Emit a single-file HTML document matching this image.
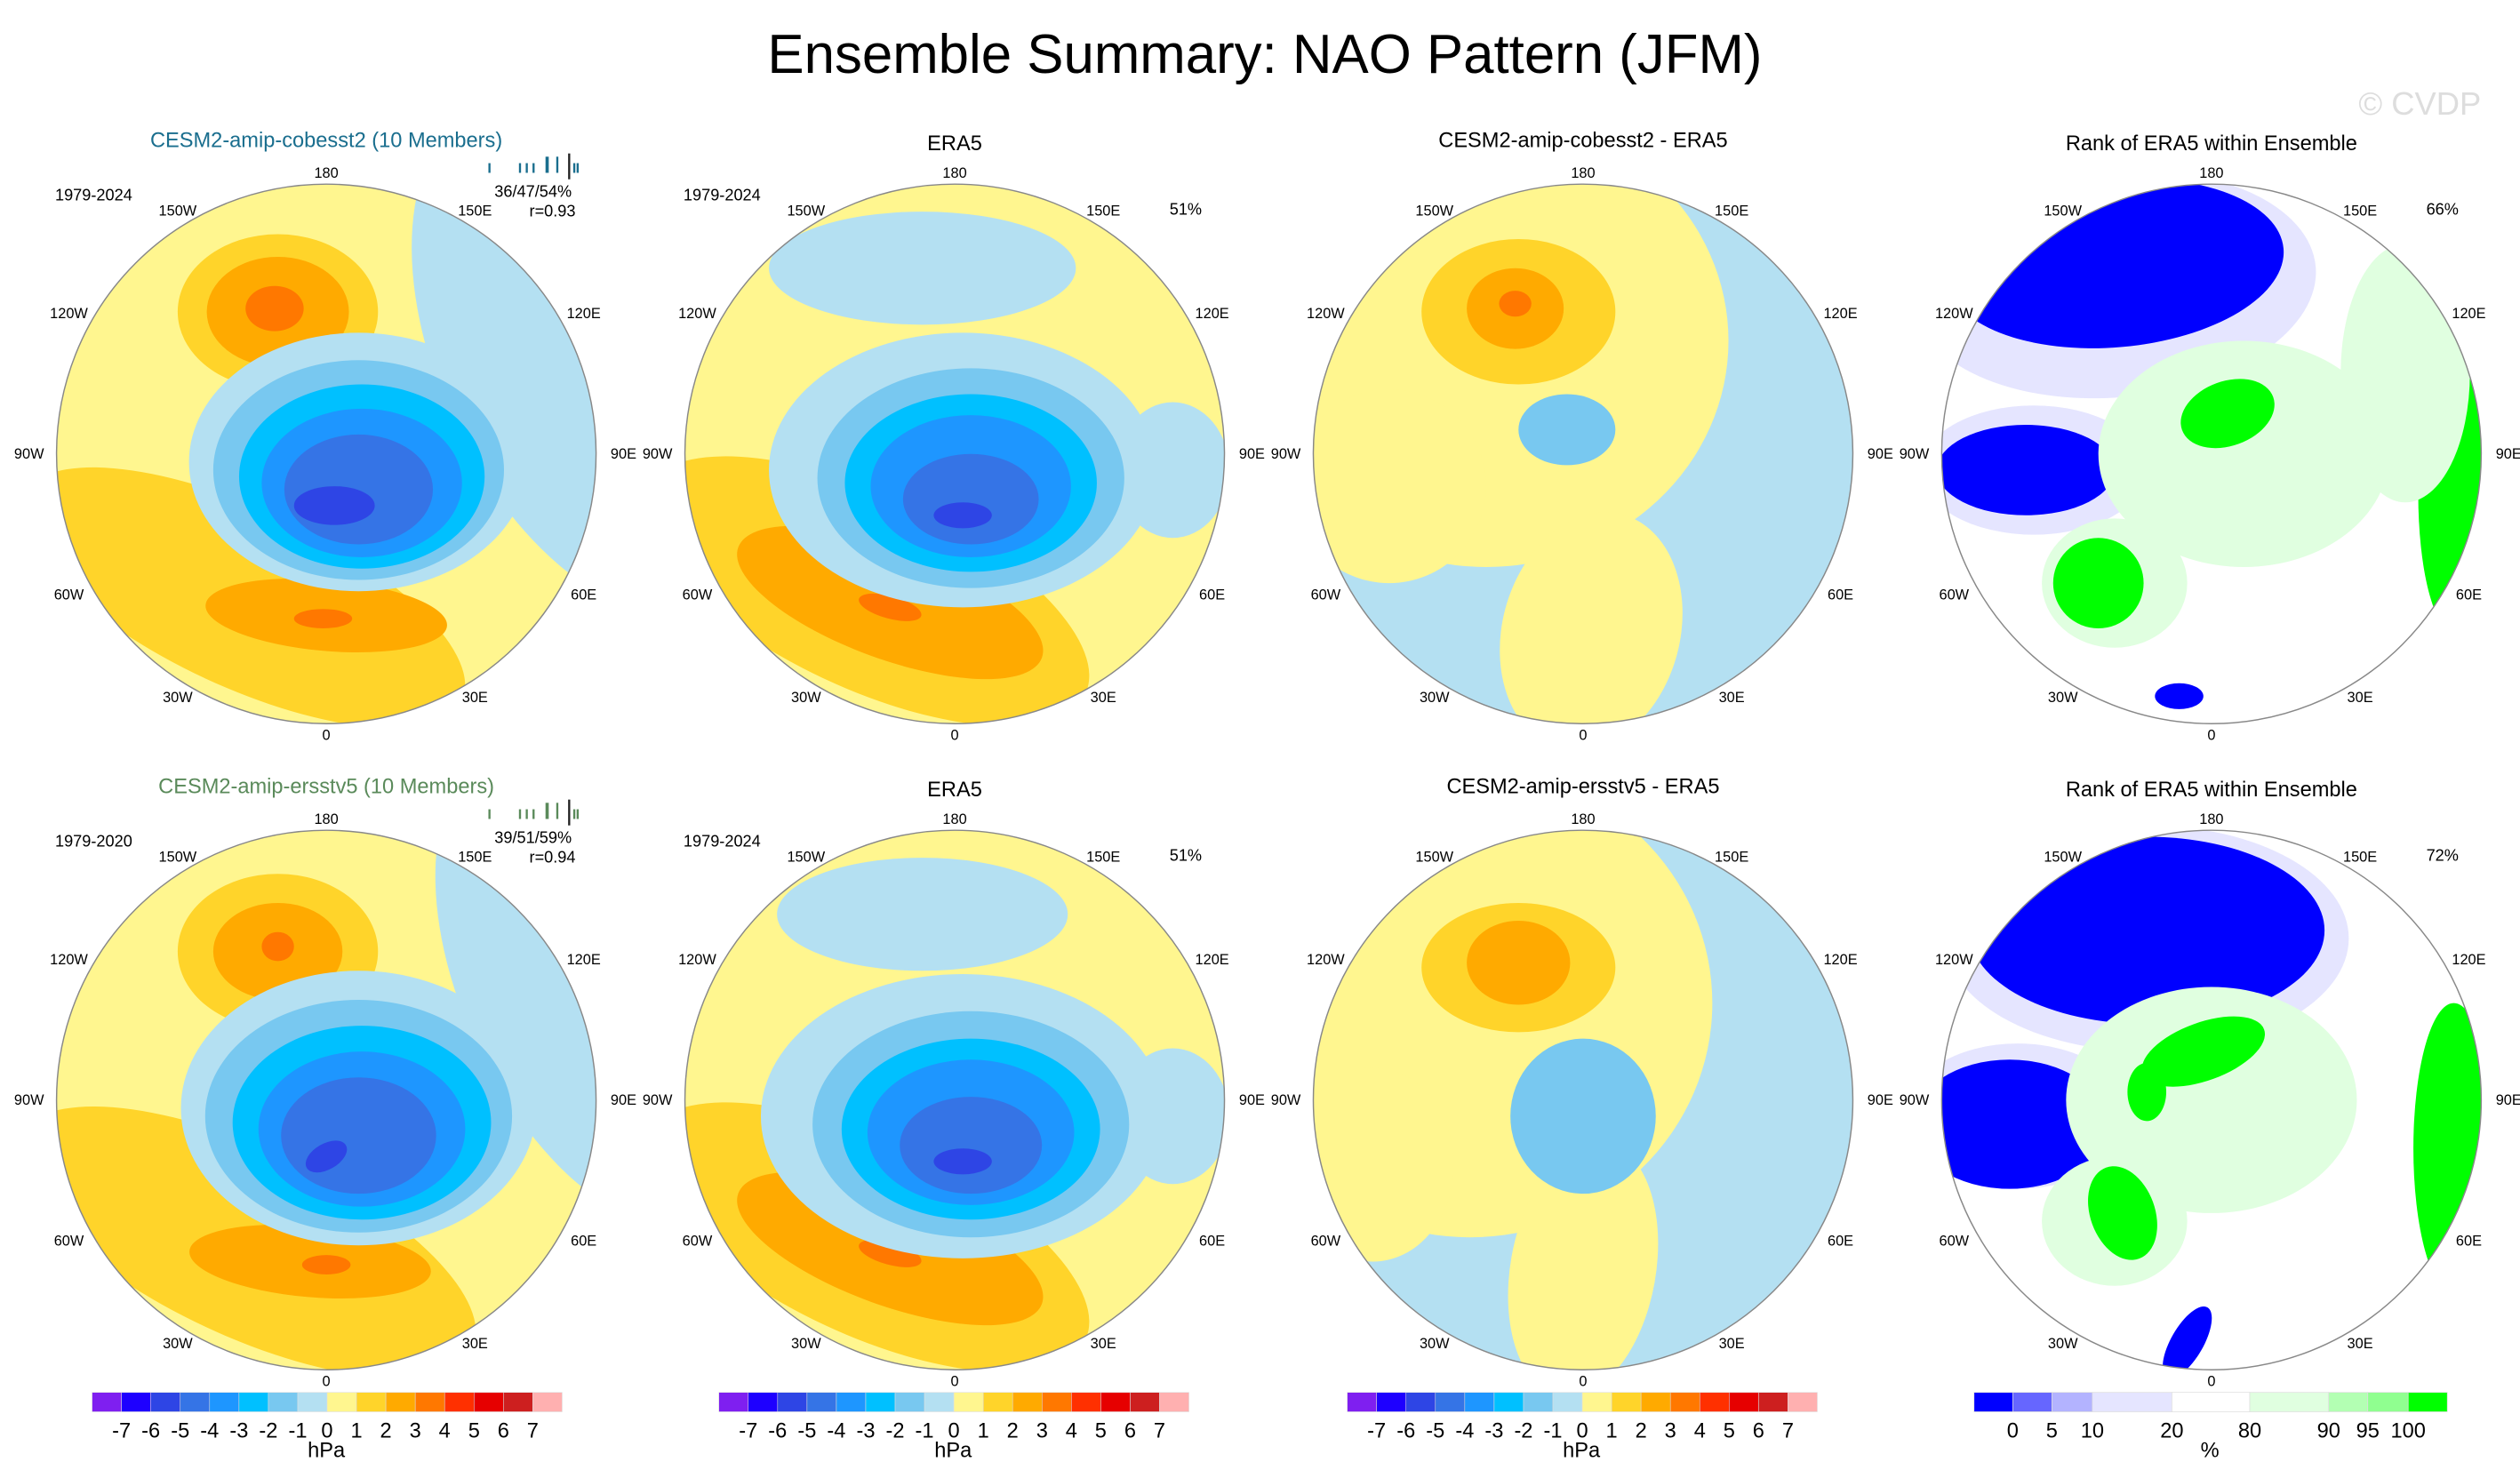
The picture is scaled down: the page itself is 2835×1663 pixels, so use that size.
<!DOCTYPE html>
<html><head><meta charset="utf-8"><style>
html,body{margin:0;padding:0;background:#fff;}
svg{display:block;font-family:"Liberation Sans",sans-serif;}
</style></head><body>
<svg id="fig" width="2835" height="1663" viewBox="0 0 1560 915" preserveAspectRatio="none" xmlns="http://www.w3.org/2000/svg">
<text x="783" y="45" font-size="34" text-anchor="middle" fill="#000">Ensemble Summary: NAO Pattern (JFM)</text>
<text x="1498" y="71" font-size="20" text-anchor="middle" fill="#dddddd">© CVDP</text>
</svg>
<script>
// ---- colour scales (data) ----
const slpLevels = [-7,-6,-5,-4,-3,-2,-1,0,1,2,3,4,5,6,7];
const slpColors = ['#7f1ff0','#1e00ff','#2e45e5','#3574e6','#1e96ff','#00c0ff','#78c8f0','#b4e0f2','#fff68f','#ffd42a','#ffaa00','#ff7800','#ff3000','#e60000','#cd1f1f','#ffb0b0'];
const rankLabels = ['0','5','10','20','80','90','95','100'];
const rankColors = ['#0000ff','#6666ff','#b3b3ff','#e5e5ff','#ffffff','#e0ffe0','#b3ffb3','#90ff90','#00ff00'];
const rankWidths = [117,118,122,240,235,238,118,122,118];
const lonLabels = ['180','150W','120W','90W','60W','30W','0','30E','60E','90E','120E','150E'];
const lonValues = [180,-150,-120,-90,-60,-30,0,30,60,90,120,150];

// ---- panel field features: [colorIndexOrRankKey, dx, dy, rx, ry, rot] ----
const p1 = [[7,165,-60,95,170,-25],[9,-52,89,150,55,25],[10,0,100,75,22,5],[11,-2,102,18,6,0],
  [9,-30,-88,62,48,0],[10,-30,-88,44,34,0],[11,-32,-90,18,14,0],
  [7,20,5,105,80,0],[6,20,10,90,68,0],[5,22,14,76,57,0],[4,22,18,62,46,0],[3,20,22,46,34,0],[2,5,32,25,12,0]];
const p2 = [[7,-20,-115,95,35,0],[7,135,10,35,42,0],[9,-55,85,150,60,25],[10,-40,92,100,35,20],[11,-40,95,20,7,15],
  [7,5,10,120,85,0],[6,10,15,95,68,0],[5,10,18,78,55,0],[4,10,20,62,44,0],[3,10,28,42,28,0],[2,5,38,18,8,0]];
const p3 = [[8,-60,-70,150,140,0],[8,5,110,55,75,15],[8,-120,20,60,60,0],[9,-40,-88,60,45,0],[10,-42,-90,30,25,0],[11,-42,-93,10,8,0],[6,-10,-15,30,22,0]];
const p4 = [['r3',-60,-105,125,70,-5],['r3',-110,10,70,40,0],['r0',-60,-118,105,52,-5],['r0',-115,10,55,28,0],['r0',-20,150,15,8,0],
  ['r5',20,0,90,70,0],['r5',-60,80,45,40,0],['r8',10,-25,30,20,-20],['r8',-70,80,28,28,0],['r8',150,25,22,85,0],['r8',125,-95,18,35,0],['r5',120,-50,40,80,0]];
const p5 = [[7,170,-70,85,160,-25],[9,-50,88,155,58,25],[10,-10,100,75,22,5],[11,0,102,15,6,0],
  [9,-30,-92,62,48,0],[10,-30,-92,40,30,0],[11,-30,-95,10,9,0],
  [7,20,5,110,85,0],[6,20,10,95,72,0],[5,22,14,80,60,0],[4,22,18,64,48,0],[3,20,22,48,36,0],[2,0,35,14,8,-30]];
const p6 = [[7,-20,-115,90,35,0],[7,135,10,35,42,0],[9,-55,85,150,60,25],[10,-40,92,100,35,20],[11,-40,95,20,7,15],
  [7,5,10,125,88,0],[6,10,15,98,70,0],[5,10,18,80,56,0],[4,10,20,64,45,0],[3,10,28,44,30,0],[2,5,38,18,8,0]];
const p7 = [[8,-70,-60,150,145,0],[8,0,105,45,80,10],[8,-130,40,50,60,0],[9,-40,-82,60,40,0],[10,-40,-85,32,26,0],[6,0,10,45,48,0]];
const p8 = [['r3',-40,-100,125,70,0],['r3',-120,10,70,45,0],['r0',-40,-105,110,58,0],['r0',-125,15,60,40,0],['r0',-15,150,10,25,30],
  ['r5',0,0,90,70,0],['r5',-60,75,45,40,0],['r8',-5,-30,40,18,-20],['r8',-55,70,20,30,-20],['r8',150,30,25,90,0],['r8',-40,-5,12,18,0]];

const panels = [
 {cx:202,cy:281,f:p1,bg:'#fff68f',title:'CESM2-amip-cobesst2 (10 Members)',tc:'#1a6e8e',ty:91,years:'1979-2024',extra:['36/47/54%','r=0.93'],name:'cobesst2-pattern'},
 {cx:591,cy:281,f:p2,bg:'#fff68f',title:'ERA5',tc:'#000',ty:93,years:'1979-2024',pct:'51%',name:'era5-pattern-top'},
 {cx:980,cy:281,f:p3,bg:'#b4e0f2',title:'CESM2-amip-cobesst2 - ERA5',tc:'#000',ty:91,name:'cobesst2-minus-era5'},
 {cx:1369,cy:281,f:p4,bg:'#ffffff',title:'Rank of ERA5 within Ensemble',tc:'#000',ty:93,pct:'66%',name:'rank-cobesst2'},
 {cx:202,cy:681,f:p5,bg:'#fff68f',title:'CESM2-amip-ersstv5 (10 Members)',tc:'#5a8a5a',ty:491,years:'1979-2020',extra:['39/51/59%','r=0.94'],name:'ersstv5-pattern'},
 {cx:591,cy:681,f:p6,bg:'#fff68f',title:'ERA5',tc:'#000',ty:493,years:'1979-2024',pct:'51%',name:'era5-pattern-bottom'},
 {cx:980,cy:681,f:p7,bg:'#b4e0f2',title:'CESM2-amip-ersstv5 - ERA5',tc:'#000',ty:491,name:'ersstv5-minus-era5'},
 {cx:1369,cy:681,f:p8,bg:'#ffffff',title:'Rank of ERA5 within Ensemble',tc:'#000',ty:493,pct:'72%',name:'rank-ersstv5'}
];
const R = 167;
const svg = document.getElementById('fig');
const NS = 'http://www.w3.org/2000/svg';
function mk(tag, attrs, parent){const e=document.createElementNS(NS,tag);for(const k in attrs)e.setAttribute(k,attrs[k]);(parent||svg).appendChild(e);return e;}
function txt(s,x,y,size,anchor,fill,parent){const t=mk('text',{x:x,y:y,'font-size':size,'text-anchor':anchor||'middle',fill:fill||'#000'},parent);t.textContent=s;return t;}
function colorOf(k){return (typeof k==='string')?rankColors[+k.slice(1)]:slpColors[k];}

const defs = mk('defs',{});
panels.forEach((p,i)=>{
  const cp = mk('clipPath',{id:'clip'+i},defs);
  mk('circle',{cx:p.cx,cy:p.cy,r:R},cp);
  const g = mk('g',{'clip-path':'url(#clip'+i+')'});
  
  
  mk('circle',{cx:p.cx,cy:p.cy,r:R,fill:p.bg},g);
  p.f.forEach(ft=>{
    const e = mk('ellipse',{cx:p.cx+ft[1],cy:p.cy+ft[2],rx:ft[3],ry:ft[4],fill:colorOf(ft[0]),transform:'rotate('+ft[5]+' '+(p.cx+ft[1])+' '+(p.cy+ft[2])+')'},g);
    
    
  });
  const rim = mk('circle',{cx:p.cx,cy:p.cy,r:R,fill:'none',stroke:'#888','stroke-width':0.8});
  
  
  lonValues.forEach((lv,j)=>{
    const a = lv*Math.PI/180;
    const t = txt(lonLabels[j], p.cx+184*Math.sin(a), p.cy-174*Math.cos(a+Math.PI)*-1*-1+3, 9);
    
    
  });
  const tt = txt(p.title, p.cx, p.ty, 13, 'middle', p.tc);
  
  
  if(p.years){const y=txt(p.years,p.cx-144,p.cy-157,10);}
  if(p.pct){const y=txt(p.pct,p.cx+143,p.cy-148,10);}
  if(p.extra){
    const a=txt(p.extra[0],p.cx+128,p.cy-159,10);
    const b=txt(p.extra[1],p.cx+140,p.cy-147,10);
    const ticks=[0,18,22,26,34,40,47,50,52];
    ticks.forEach((d,k)=>{const l=mk('line',{x1:p.cx+101+d*1.05,x2:p.cx+101+d*1.05,y1:p.cy-(k==6?186:(k==4||k==5?184:180)),y2:p.cy-(k==6?170:174),stroke:k==6?'#222':p.tc,'stroke-width':k==4?2:1.3});});
  }
});

// ---- colorbars ----
[57,445,834].forEach((x0,ci)=>{
  const g = mk('g',{});
  
  
  const w = 291/slpColors.length;
  slpColors.forEach((c,k)=>{mk('rect',{x:x0+k*w,y:862,width:w,height:12,fill:c,stroke:'#ddd','stroke-width':0.3},g);});
  slpLevels.forEach((v,k)=>{txt(String(v),x0+(k+1)*w,890,13,'middle','#000',g);});
  txt('hPa',x0+145,902,13,'middle','#000',g);
});
(function(){
  const g = mk('g',{});
  
  
  const total = rankWidths.reduce((a,b)=>a+b,0), x0=1222, W=293;
  let x=x0;
  rankColors.forEach((c,k)=>{const w=rankWidths[k]/total*W;mk('rect',{x:x,y:862,width:w,height:12,fill:c,stroke:'#ddd','stroke-width':0.4},g);x+=w;if(k<rankLabels.length)txt(rankLabels[k],x,890,13,'middle','#000',g);});
  txt('%',x0+146,902,13,'middle','#000',g);
})();
</script>
</body></html>
